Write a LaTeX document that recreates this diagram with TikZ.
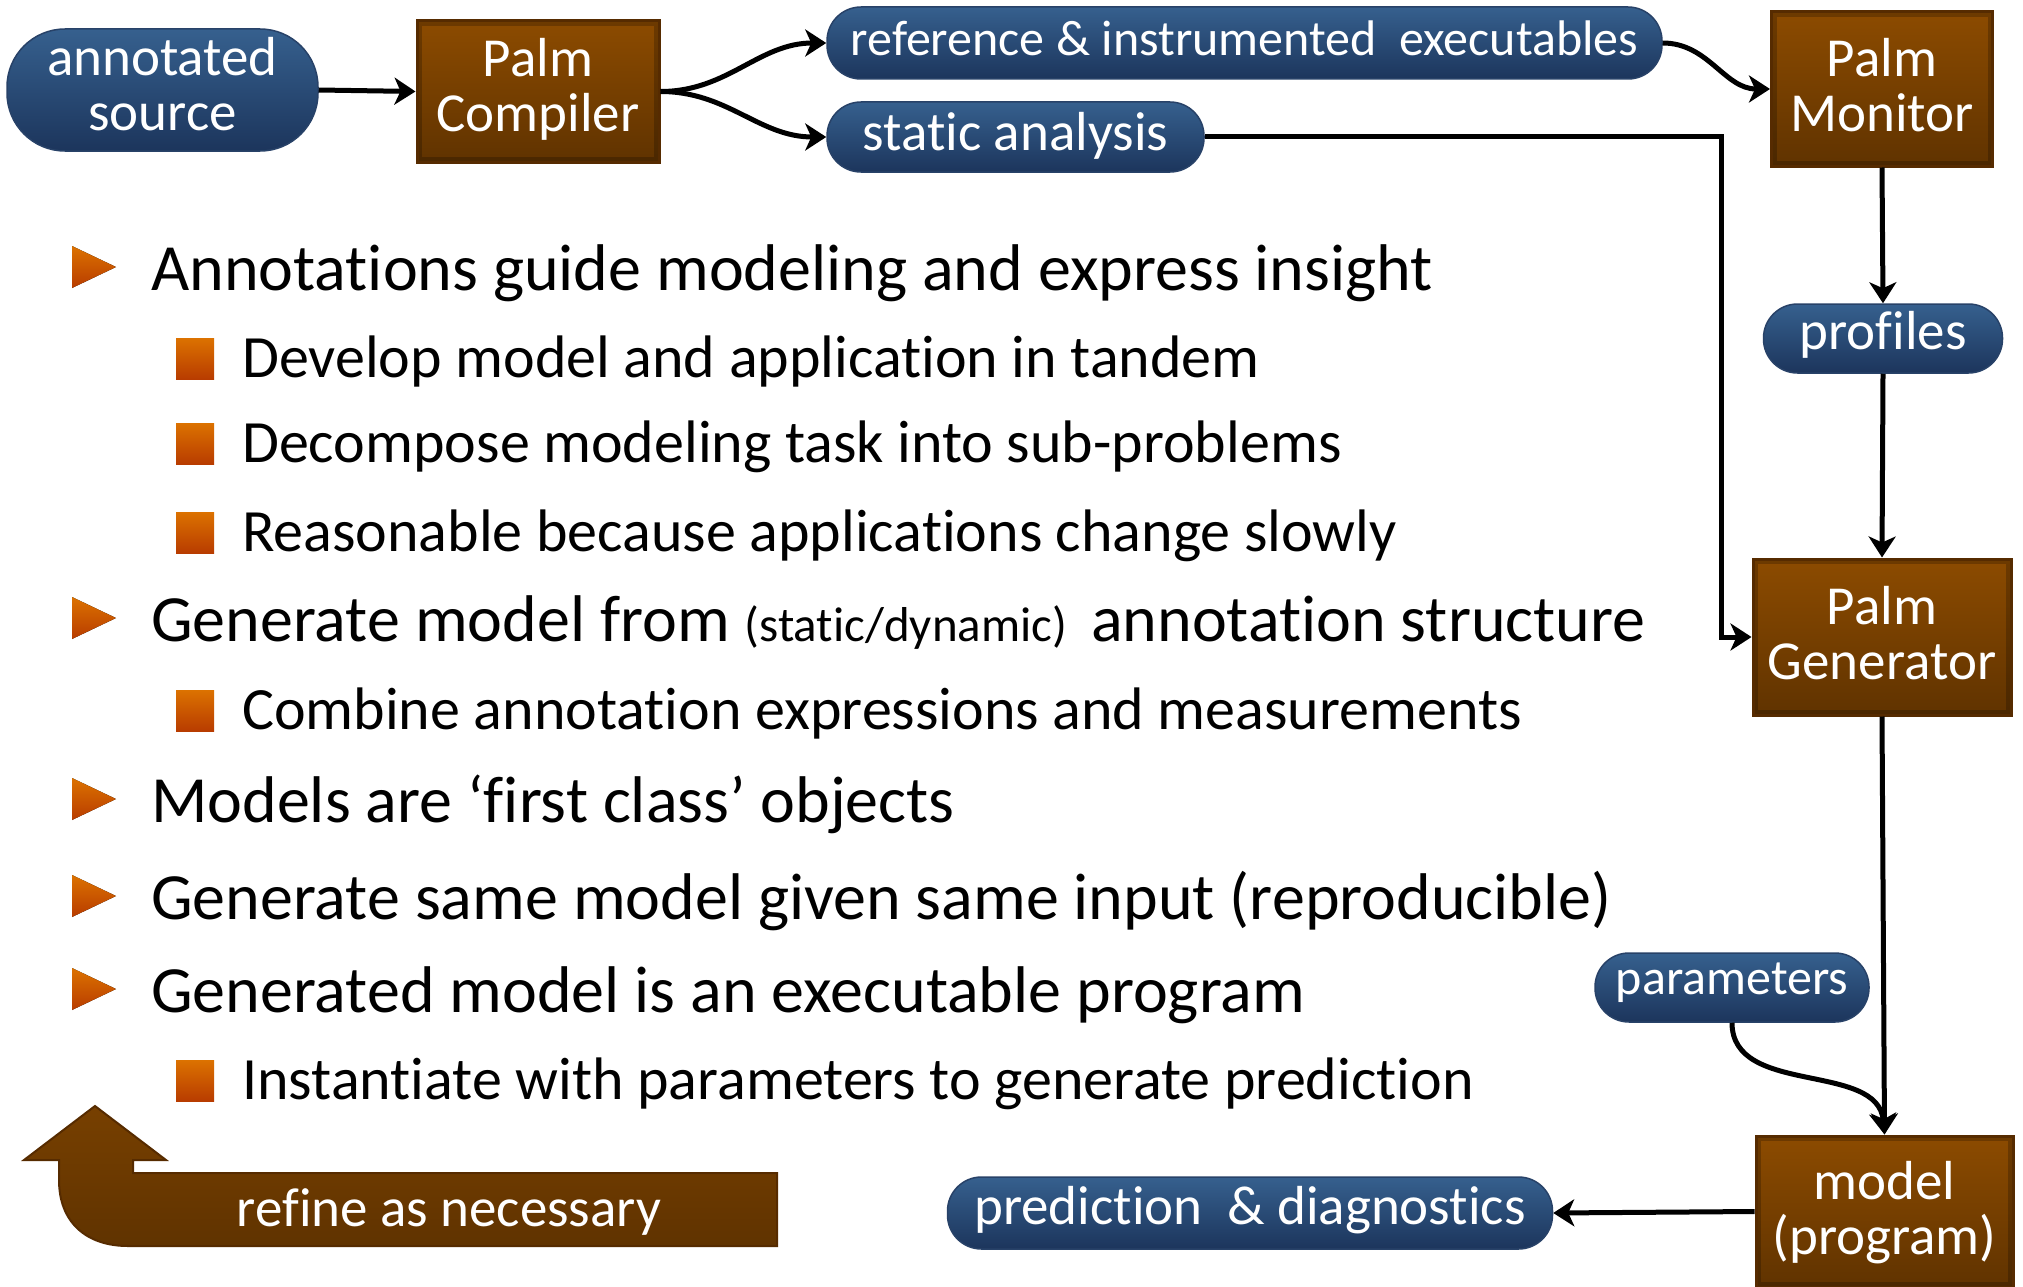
\documentclass[tikz,border=0pt]{standalone}
\usepackage{fontspec}
\setmainfont{Carlito}[RawFeature={-liga;-rlig;-clig;-calt;-dlig}]
\usetikzlibrary{arrows.meta,calc}

% keep t-i, f-i and f-l as separate glyphs
\XeTeXinterchartokenstate=1
\newXeTeXintercharclass\ligleft
\newXeTeXintercharclass\ligright
\XeTeXcharclass`t=\ligleft
\XeTeXcharclass`f=\ligleft
\XeTeXcharclass`i=\ligright
\XeTeXcharclass`l=\ligright
\XeTeXinterchartoks\ligleft\ligright={\kern0pt}

\definecolor{pillTop}{RGB}{54,96,142}
\definecolor{pillBot}{RGB}{28,53,92}
\definecolor{pillEdge}{RGB}{40,66,104}
\definecolor{boxTop}{RGB}{140,75,0}
\definecolor{boxBot}{RGB}{96,51,0}
\definecolor{boxEdge}{RGB}{86,43,0}
\definecolor{bulTop}{RGB}{220,114,0}
\definecolor{bulBot}{RGB}{184,60,0}

\newcommand{\nodefont}{\fontsize{55}{55}\selectfont}
\newcommand{\pillsmall}{\fontsize{50}{50}\selectfont}
\newcommand{\lvlone}{\fontsize{66}{66}\selectfont}
\newcommand{\lvltwo}{\fontsize{60}{60}\selectfont}
\newcommand{\asidefont}{\fontsize{49}{49}\selectfont}
\newcommand{\firstline}{\rule{0pt}{45pt}}

\begin{document}
\begin{tikzpicture}[x=1pt,y=-1pt,
  pill/.style={rectangle, rounded corners=#1, top color=pillTop, bottom color=pillBot,
    draw=pillEdge, line width=1.5pt, text=white, inner sep=0pt, align=center, font=\nodefont,
    text height=40pt, text depth=17pt},
  pill/.default=34pt,
  tool/.style={rectangle, top color=boxTop, bottom color=boxBot, draw=boxEdge,
    line width=3pt, inner sep=0pt,
    path picture={\draw[line width=10pt, black, opacity=0.22]
      (path picture bounding box.south west) rectangle (path picture bounding box.north east);}},
  label text/.style={anchor=north, text=white, inner sep=0pt, align=center, font=\nodefont},
  arr/.style={line width=5pt, -{Stealth[length=21pt,width=27pt,inset=6pt]}},
  tri/.style={top color=bulTop, bottom color=bulBot},
  sq/.style={top color=bulTop, bottom color=bulBot},
  one/.style={anchor=base west, font=\lvlone, inner sep=0pt},
  two/.style={anchor=base west, font=\lvltwo, inner sep=0pt}
]
\useasboundingbox (0,0) rectangle (2023,1287);

% ---- flow nodes ----
\node[pill=58pt, minimum width=311pt, minimum height=122pt] (src) at (162.5,90) {};
\node[label text] (srcT) at (162.5,75-45) {\firstline annotated\\source};

\node[tool, minimum width=242pt, minimum height=141pt] (comp) at (538,91.5) {};
\node[label text] (compT) at (538,76-45) {\firstline Palm\\Compiler};

\node[pill, minimum width=835pt, minimum height=72pt, font=\pillsmall, text depth=14pt] (ref) at (1244.5,43)
  {reference \& instrumented\ \ executables};
\node[pill, minimum width=377pt, minimum height=70pt, text depth=14pt] (stat) at (1015.5,137) {static analysis};

\node[tool, minimum width=221pt, minimum height=154pt] (mon) at (1882,89) {};
\node[label text] (monT) at (1882,76-45) {\firstline Palm\\Monitor};

\node[pill, minimum width=239pt, minimum height=69pt, text depth=18pt] (prof) at (1883,338.5) {profiles};

\node[tool, minimum width=258pt, minimum height=156pt] (gen) at (1882,637) {};
\node[label text] (genT) at (1882,624-45) {\firstline Palm\\Generator};

\node[pill, minimum width=274pt, minimum height=69pt, font=\pillsmall, text depth=26pt] (par) at (1732,987.5) {parameters};

\node[tool, minimum width=257pt, minimum height=151pt] (model) at (1884.5,1211.5) {};
\node[label text] (modelT) at (1884.5,1199-45) {\firstline model\\(program)};

\node[pill, minimum width=605pt, minimum height=72pt] (pred) at (1250,1213) {prediction\ \ \& diagnostics};

\coordinate (turn) at (1721,137);

% ---- connectors ----
\draw[arr] (src.east) -- (comp.west);
\draw[arr] (comp.east) to[out=0,in=180] (ref.west);
\draw[arr] (comp.east) to[out=0,in=180] (stat.west);
\draw[arr] (ref.east) to[out=0,in=180] (mon.west);
\draw[arr] (stat.east) -- (turn) |- (gen.west);
\draw[arr] (mon.south) -- (prof.north);
\draw[arr] (prof.south) -- (gen.north);
\draw[arr] (gen.south) -- (model.north);
\draw[arr] (par.south) to[out=-90,in=95] (model.north);
\draw[arr] (model.west) -- (pred.east);

% ---- feedback arrow ----
\draw[top color=boxTop!85!black, bottom color=boxBot, draw=boxEdge, line width=2pt]
  (95,1106) -- (166,1160) -- (133,1160) -- (133,1173) -- (777,1173) -- (777,1246)
  -- (128,1246) .. controls (86,1246) and (59,1222) .. (59,1180) -- (59,1160) -- (24,1160) -- cycle;
\node[text=white, font=\nodefont, anchor=base, inner sep=0pt] (refine) at (449,1226) {refine as necessary};

% ---- bullet list ----
\newcommand{\tribul}[1]{\fill[tri] (72,#1-44) -- (116,#1-23) -- (72,#1-2) -- cycle;}
\newcommand{\sqbul}[1]{\fill[sq] (176,#1-39) rectangle (214,#1+2);}

\tribul{290}
\node[one] (b1) at (151,290) {Annotations guide modeling and express insight};
\sqbul{377}
\node[two] (b1a) at (242,377) {Develop model and application in tandem};
\sqbul{462}
\node[two] (b1b) at (242,462) {Decompose modeling task into sub-problems};
\sqbul{551}
\node[two] (b1c) at (242,551) {Reasonable because applications change slowly};
\tribul{641}
\node[one] (b2) at (151,641) {Generate model from {\asidefont (static/dynamic)}\hspace{9pt} annotation structure};
\sqbul{729}
\node[two] (b2a) at (242,729) {Combine annotation expressions and measurements};
\tribul{822}
\node[one] (b3) at (151,822) {Models are ‘first class’ objects};
\tribul{919}
\node[one] (b4) at (151,919) {Generate same model given same input (reproducible)};
\tribul{1012}
\node[one] (b5) at (151,1012) {Generated model is an executable program};
\sqbul{1099}
\node[two] (b5a) at (242,1099) {Instantiate with parameters to generate prediction};
\end{tikzpicture}
\end{document}
